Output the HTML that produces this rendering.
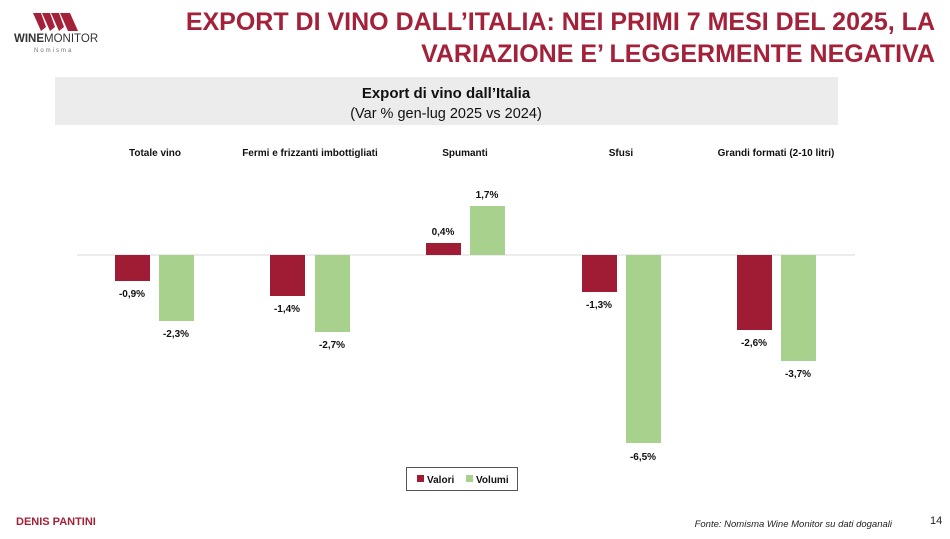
<!DOCTYPE html>
<html><head><meta charset="utf-8"><style>
body{margin:0;width:950px;height:534px;background:#fff;overflow:hidden;font-family:"Liberation Sans",sans-serif}
</style></head><body>
<svg width="950" height="534" xmlns="http://www.w3.org/2000/svg" font-family="Liberation Sans, sans-serif">
<rect width="950" height="534" fill="#fff"/>
<!-- logo -->
<g fill="#a3223a">
<polygon points="33,13 41,13 46,27 41,31"/>
<polygon points="42,13 50,13 55,27 50,31"/>
<polygon points="51,13 59,13 64,27 59,31"/>
<polygon points="60,13 70,13 78,31 68,31"/>
</g>
<text x="14" y="42" font-size="11.5" fill="#333"><tspan font-weight="bold">WINE</tspan>MONITOR</text>
<text x="34" y="52" font-size="6" fill="#777" letter-spacing="2">Nomisma</text>
<!-- title -->
<text x="935" y="30" text-anchor="end" font-size="25" font-weight="bold" fill="#a3223a">EXPORT DI VINO DALL’ITALIA: NEI PRIMI 7 MESI DEL 2025, LA</text>
<text x="935" y="62" text-anchor="end" font-size="25" font-weight="bold" fill="#a3223a">VARIAZIONE E’ LEGGERMENTE NEGATIVA</text>
<!-- chart title box -->
<rect x="55" y="77" width="783" height="48" fill="#ececec"/>
<text x="446" y="98" text-anchor="middle" font-size="15" font-weight="bold" fill="#111">Export di vino dall’Italia</text>
<text x="446" y="118" text-anchor="middle" font-size="14.5" fill="#111">(Var % gen-lug 2025 vs 2024)</text>
<!-- categories -->
<g font-size="10" font-weight="bold" fill="#111" text-anchor="middle">
<text x="155" y="156">Totale vino</text>
<text x="310" y="156">Fermi e frizzanti imbottigliati</text>
<text x="465" y="156">Spumanti</text>
<text x="621" y="156">Sfusi</text>
<text x="776" y="156">Grandi formati (2-10 litri)</text>
</g>
<line x1="77" y1="255" x2="855" y2="255" stroke="#d9d9d9" stroke-width="1"/>
<!-- bars -->
<g fill="#a01c34">
<rect x="115" y="255" width="35" height="26"/>
<rect x="270" y="255" width="35" height="41"/>
<rect x="426" y="243" width="35" height="12"/>
<rect x="582" y="255" width="35" height="37"/>
<rect x="737" y="255" width="35" height="75"/>
</g>
<g fill="#a9d18e">
<rect x="159" y="255" width="35" height="66"/>
<rect x="315" y="255" width="35" height="77"/>
<rect x="470" y="206" width="35" height="49"/>
<rect x="626" y="255" width="35" height="188"/>
<rect x="781" y="255" width="35" height="106"/>
</g>
<g font-size="10" font-weight="bold" fill="#111" text-anchor="middle">
<text x="132" y="297">-0,9%</text>
<text x="176" y="337">-2,3%</text>
<text x="287" y="312">-1,4%</text>
<text x="332" y="348">-2,7%</text>
<text x="443" y="235">0,4%</text>
<text x="487" y="198">1,7%</text>
<text x="599" y="308">-1,3%</text>
<text x="643" y="460">-6,5%</text>
<text x="754" y="346">-2,6%</text>
<text x="798" y="377">-3,7%</text>
</g>
<!-- legend -->
<rect x="406.5" y="467.5" width="111" height="23" fill="#fff" stroke="#555" stroke-width="1"/>
<rect x="417" y="475" width="7" height="7" fill="#a01c34"/>
<text x="427" y="483" font-size="10" font-weight="bold" fill="#111">Valori</text>
<rect x="466" y="475" width="7" height="7" fill="#a9d18e"/>
<text x="476" y="483" font-size="10" font-weight="bold" fill="#111">Volumi</text>
<!-- footer -->
<text x="16" y="525" font-size="11" font-weight="bold" fill="#a3223a">DENIS PANTINI</text>
<text x="892" y="527" text-anchor="end" font-size="9.5" font-style="italic" fill="#222">Fonte: Nomisma Wine Monitor su dati doganali</text>
<text x="930" y="524" font-size="11" fill="#222">14</text>
</svg>
</body></html>
